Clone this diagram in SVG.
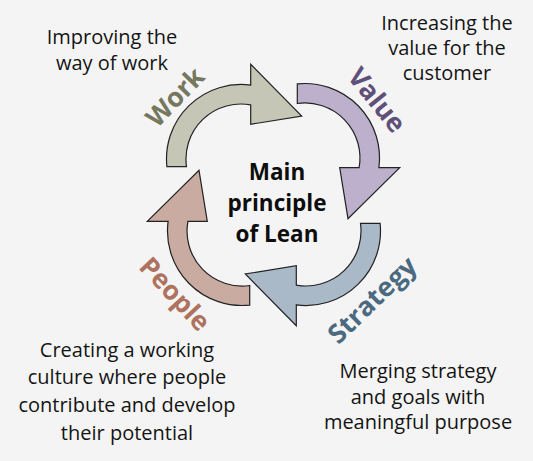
<svg xmlns="http://www.w3.org/2000/svg" width="533" height="461" viewBox="0 0 533 461">
<style>
.bg{fill:#f4f4f4}
.arr{stroke:#222;stroke-width:1.2;stroke-linejoin:miter}
.txt{font-family:"Open Sans","Liberation Sans",sans-serif;font-size:20px;fill:#141414;text-anchor:middle}
.ctr{font-family:"Open Sans","Liberation Sans",sans-serif;font-size:22.5px;font-weight:bold;fill:#0d0d0d;text-anchor:middle}
.lbl{font-family:"Open Sans","Liberation Sans",sans-serif;font-size:26.5px;font-weight:bold;text-anchor:middle}
</style>
<defs>
<path id="carrow" d="M -74.1 7.7 A 74.5 74.5 0 0 1 9.7 -73.9 L 9.7 -94.7 L 60.7 -43 L 9.7 -34.7 L 9.7 -54.1 A 55 55 0 0 0 -54.5 7.7 Z"/>
</defs>
<rect class="bg" x="0" y="0" width="533" height="461"/>
<g id="connectors">
<use href="#carrow" class="arr" fill="#c5c6b6" transform="translate(241,159)"/>
<use href="#carrow" class="arr" fill="#bcb0cc" transform="translate(305,158) rotate(90)"/>
<use href="#carrow" class="arr" fill="#a9b9c7" transform="translate(306,231) rotate(180)"/>
<use href="#carrow" class="arr" fill="#c9aba1" transform="translate(242,231) rotate(270)"/>
</g>
<g id="center">
<text class="ctr" x="277" y="180">Main</text>
<text class="ctr" x="277" y="211">principle</text>
<text class="ctr" x="277" y="242">of Lean</text>
</g>
<g id="work">
<text class="lbl" fill="#75785f" transform="translate(175,97) rotate(-46)" dy="0.35em">Work</text>
<text class="txt" x="112" y="44">Improving the</text>
<text class="txt" x="112" y="69.5">way of work</text>
</g>
<g id="value">
<text class="lbl" fill="#5e5079" transform="translate(377,100) rotate(51)" dy="0.35em">Value</text>
<text class="txt" x="447" y="30">Increasing the</text>
<text class="txt" x="447" y="55">value for the</text>
<text class="txt" x="447" y="80">customer</text>
</g>
<g id="strategy">
<text class="lbl" fill="#4b6a80" transform="translate(372,300) rotate(-44)" dy="0.35em">Strategy</text>
<text class="txt" x="418" y="377.5">Merging strategy</text>
<text class="txt" x="418" y="403.5">and goals with</text>
<text class="txt" x="418" y="428.5">meaningful purpose</text>
</g>
<g id="people">
<text class="lbl" fill="#ad735f" transform="translate(175,294) rotate(47)" dy="0.35em">People</text>
<text class="txt" x="127" y="356.7">Creating a working</text>
<text class="txt" x="127" y="383.5">culture where people</text>
<text class="txt" x="127" y="411.5">contribute and develop</text>
<text class="txt" x="127" y="439.5">their potential</text>
</g>
</svg>
